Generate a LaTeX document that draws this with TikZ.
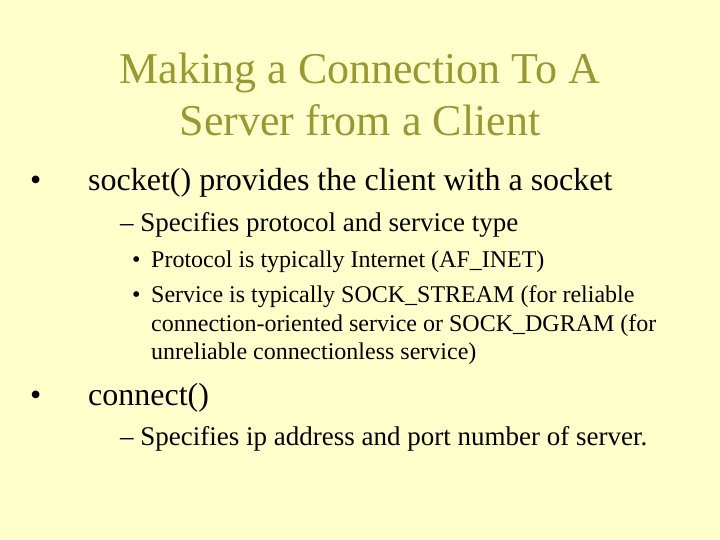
\documentclass[tikz,border=0pt]{standalone}
\usepackage{fontspec}
\setmainfont{Liberation Serif}
\definecolor{bg}{HTML}{FFFFCC}
\definecolor{ttl}{HTML}{999933}
\begin{document}
\begin{tikzpicture}[x=1pt,y=-1pt,
  t/.style={anchor=base west,inner sep=0pt,text=black},
  ti/.style={anchor=base,inner sep=0pt,text=ttl,font=\fontsize{44}{48}\selectfont},
  l1/.style={t,font=\fontsize{32}{36}\selectfont},
  l2/.style={t,font=\fontsize{27}{30}\selectfont},
  l3/.style={t,font=\fontsize{24}{28}\selectfont}]
\fill[bg] (0,0) rectangle (720,540);
\useasboundingbox (0,0) rectangle (720,540);
\node[ti] (t1) at (360,84) {Making a Connection To A};
\node[ti] (t2) at (360,136) {Server from a Client};
\node[l1] (a) at (30,191) {•};
\node[l1] (a1) at (88,191) {socket() provides the client with a socket};
\node[l2] (b) at (120,232) {– Specifies protocol and service type};
\node[l3] (c) at (132,267) {•};
\node[l3] (c1) at (151,267) {Protocol is typically Internet (AF\_INET)};
\node[l3] (d) at (132,302) {•};
\node[l3] (d1) at (151,302) {Service is typically SOCK\_STREAM (for reliable};
\node[l3] (d2) at (151,331) {connection-oriented service or SOCK\_DGRAM (for};
\node[l3] (d3) at (151,359) {unreliable connectionless service)};
\node[l1] (e) at (30,405) {•};
\node[l1] (e1) at (88,405) {connect()};
\node[l2] (f) at (120,445) {– Specifies ip address and port number of server.};
\end{tikzpicture}
\end{document}
